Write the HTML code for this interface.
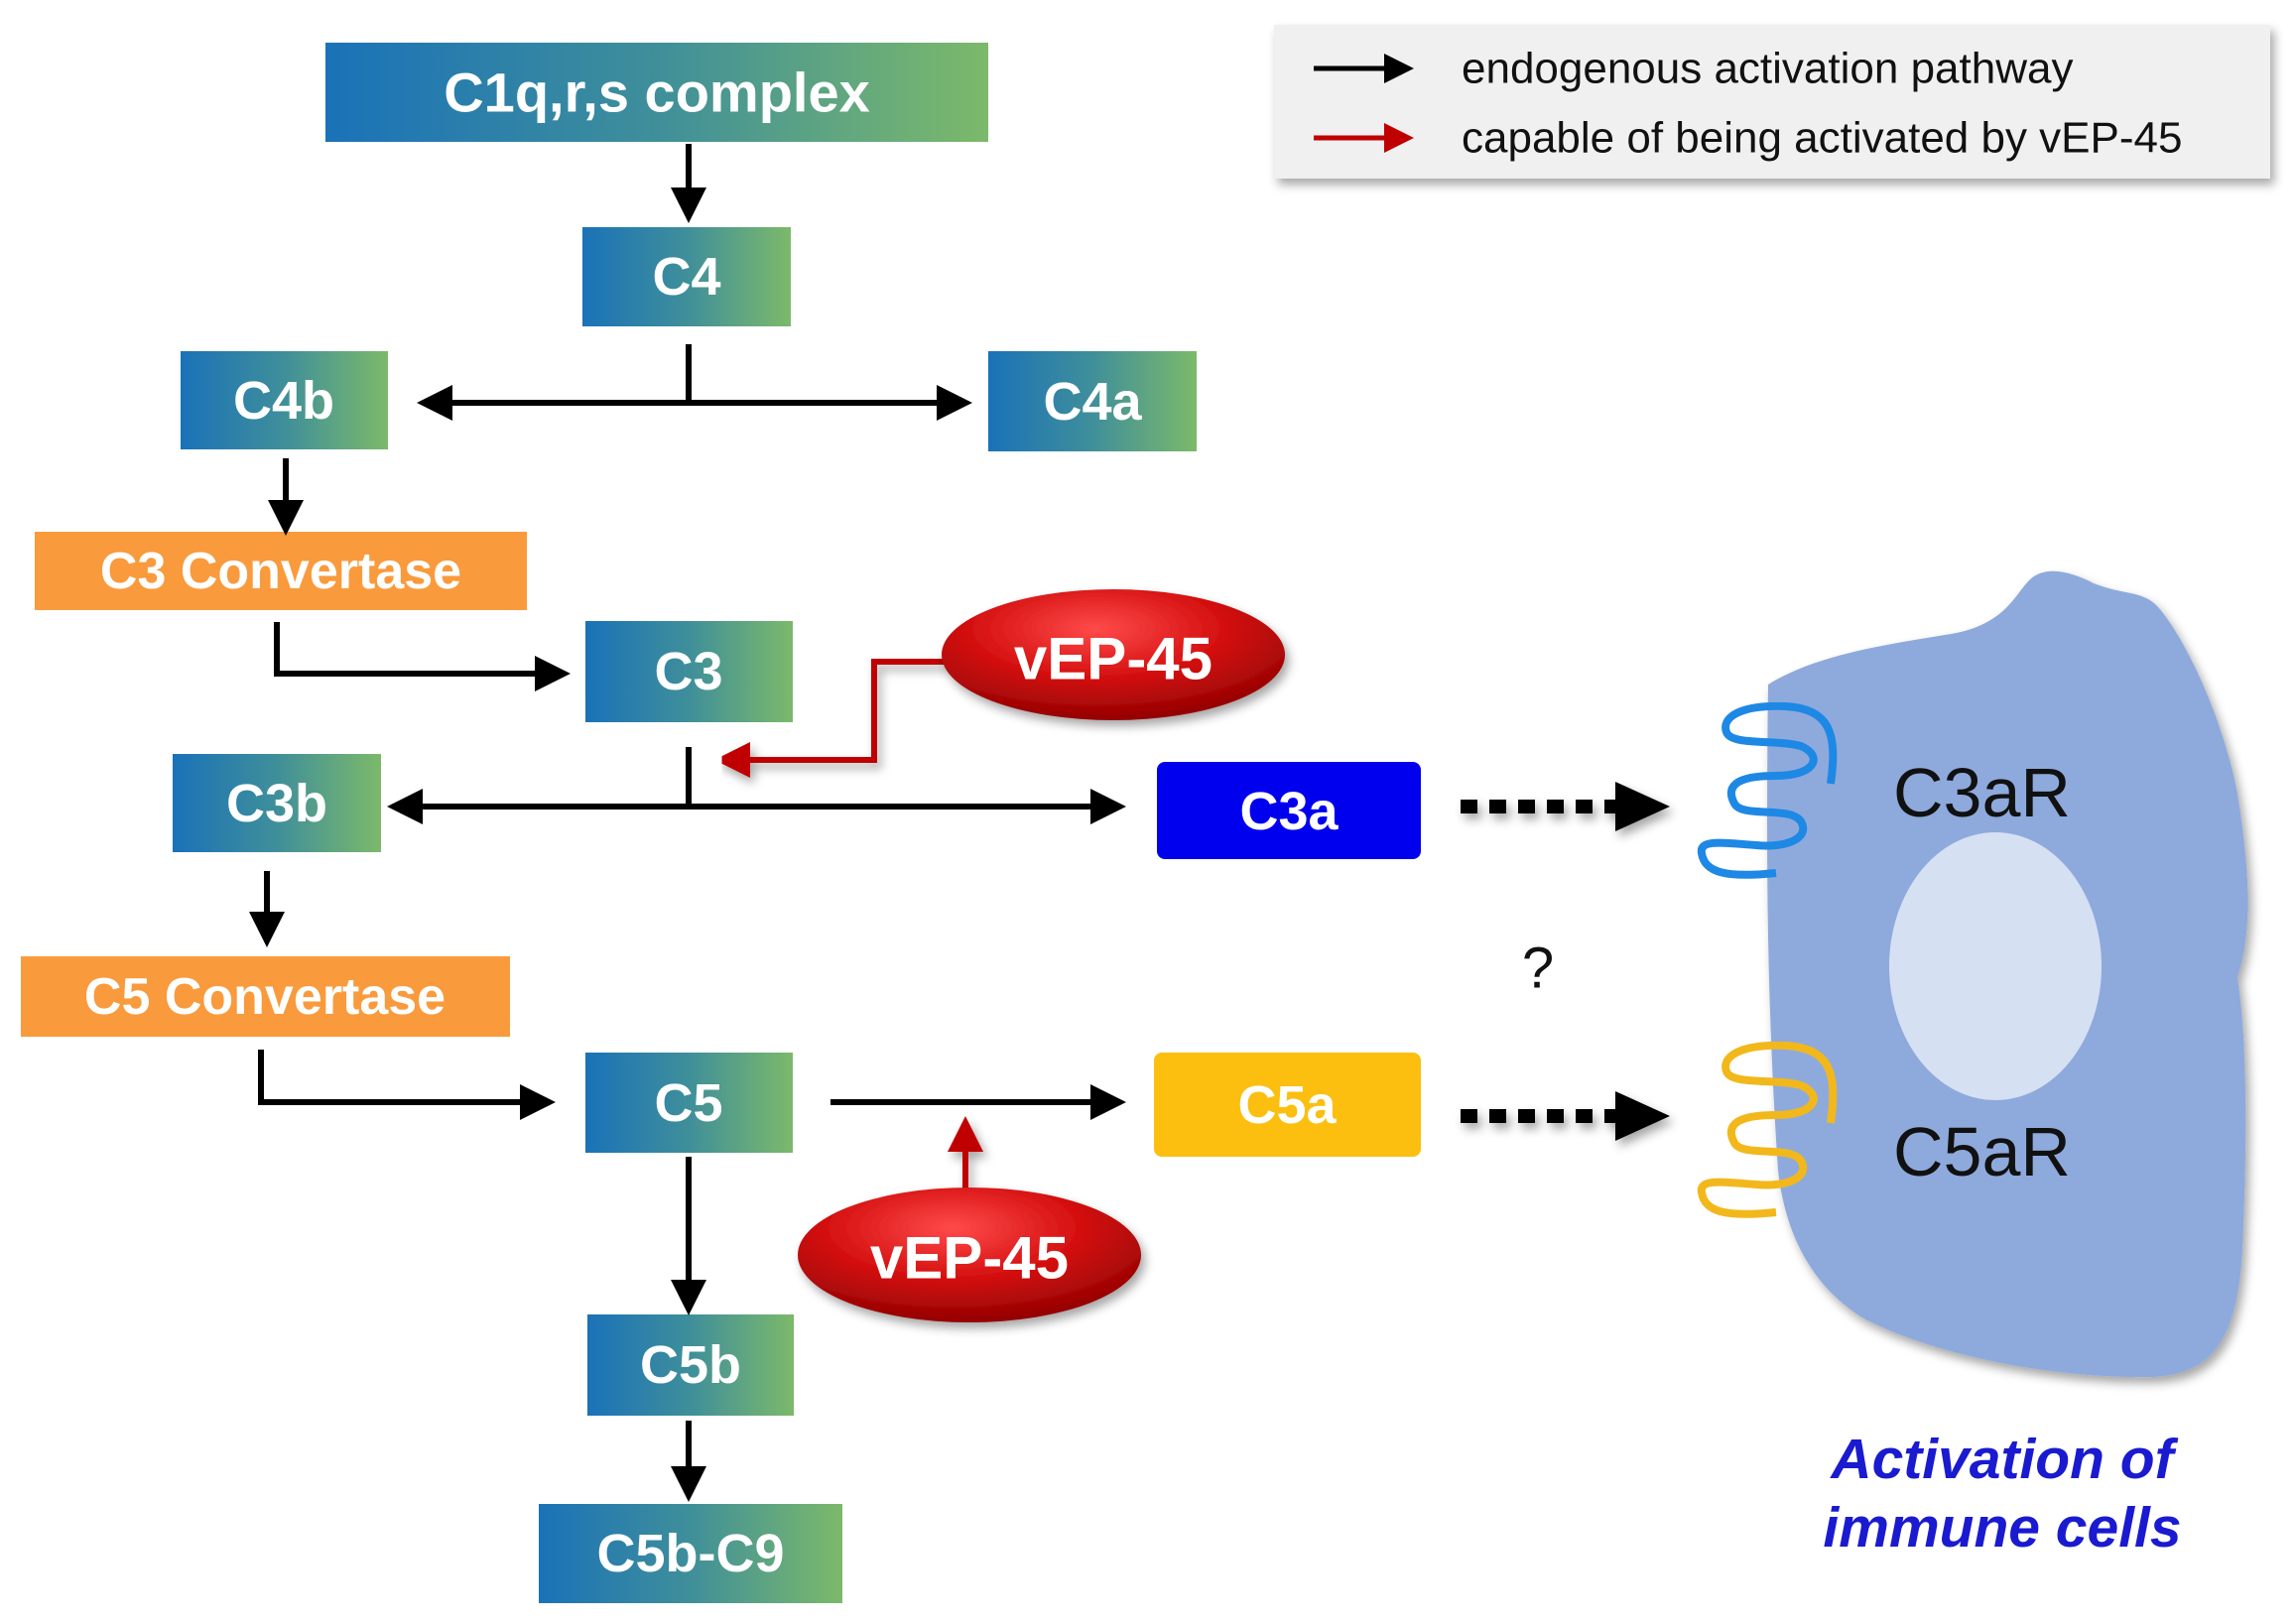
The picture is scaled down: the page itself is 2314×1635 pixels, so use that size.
<!DOCTYPE html>
<html><head><meta charset="utf-8"><style>
html,body{margin:0;padding:0;background:#fff;}
svg{display:block}
.bx{font-family:"Liberation Sans",sans-serif;font-weight:bold;fill:#fff;text-anchor:middle;dominant-baseline:central}
</style></head><body>
<svg width="2314" height="1635" viewBox="0 0 2314 1635" xmlns="http://www.w3.org/2000/svg">
<defs>
<linearGradient id="g" x1="0" x2="1" y1="0" y2="0">
<stop offset="0" stop-color="#1a72b8"/><stop offset="0.5" stop-color="#3f8f9a"/><stop offset="1" stop-color="#7cb96a"/></linearGradient>
<radialGradient id="r" cx="0.45" cy="0.3" r="0.75">
<stop offset="0" stop-color="#ff4a4a"/><stop offset="0.5" stop-color="#d40f0f"/><stop offset="1" stop-color="#8a0000"/></radialGradient>
<marker id="ak" markerWidth="6" markerHeight="6" refX="1" refY="3" orient="auto" markerUnits="strokeWidth" viewBox="0 0 6 6"><path d="M0,0 L6,3 L0,6 z" fill="#000"/></marker>
<marker id="ar" markerWidth="6" markerHeight="6" refX="1" refY="3" orient="auto" markerUnits="strokeWidth" viewBox="0 0 6 6"><path d="M0,0 L6,3 L0,6 z" fill="#c00000"/></marker>
<filter id="sh" x="-10%" y="-10%" width="130%" height="140%"><feDropShadow dx="4" dy="6" stdDeviation="5" flood-color="#000" flood-opacity="0.35"/></filter>
</defs>

<!-- legend -->
<rect x="1284" y="25" width="1004" height="155" fill="#f0f0f0" filter="url(#sh)"/>
<line x1="1324" y1="69" x2="1400" y2="69" stroke="#000" stroke-width="5" marker-end="url(#ak)"/>
<line x1="1324" y1="139" x2="1400" y2="139" stroke="#c00000" stroke-width="5" marker-end="url(#ar)"/>
<text x="1473" y="69" font-family="Liberation Sans,sans-serif" font-size="44" fill="#111" dominant-baseline="central">endogenous activation pathway</text>
<text x="1473" y="139" font-family="Liberation Sans,sans-serif" font-size="44" fill="#111" dominant-baseline="central">capable of being activated by vEP-45</text>

<!-- boxes -->
<rect x="328" y="43" width="668" height="100" fill="url(#g)"/><text class="bx" x="662" y="93" font-size="56">C1q,r,s complex</text>
<rect x="587" y="229" width="210" height="100" fill="url(#g)"/><text class="bx" x="692" y="279" font-size="54">C4</text>
<rect x="182" y="354" width="209" height="99" fill="url(#g)"/><text class="bx" x="286" y="404" font-size="54">C4b</text>
<rect x="996" y="354" width="210" height="101" fill="url(#g)"/><text class="bx" x="1101" y="405" font-size="54">C4a</text>
<rect x="35" y="536" width="496" height="79" fill="#f99a3c"/><text class="bx" x="283" y="576" font-size="52">C3 Convertase</text>
<rect x="590" y="626" width="209" height="102" fill="url(#g)"/><text class="bx" x="694" y="677" font-size="54">C3</text>
<rect x="174" y="760" width="210" height="99" fill="url(#g)"/><text class="bx" x="279" y="810" font-size="54">C3b</text>
<rect x="1166" y="768" width="266" height="98" rx="8" fill="#0000ee"/><text class="bx" x="1299" y="818" font-size="54">C3a</text>
<rect x="21" y="964" width="493" height="81" fill="#f99a3c"/><text class="bx" x="267" y="1005" font-size="52">C5 Convertase</text>
<rect x="590" y="1061" width="209" height="101" fill="url(#g)"/><text class="bx" x="694" y="1112" font-size="54">C5</text>
<rect x="1163" y="1061" width="269" height="105" rx="8" fill="#fcbf10"/><text class="bx" x="1297" y="1114" font-size="54">C5a</text>
<rect x="592" y="1325" width="208" height="102" fill="url(#g)"/><text class="bx" x="696" y="1376" font-size="54">C5b</text>
<rect x="543" y="1516" width="306" height="100" fill="url(#g)"/><text class="bx" x="696" y="1566" font-size="54">C5b-C9</text>

<!-- black arrows -->
<g stroke="#000" stroke-width="6" fill="none">
<line x1="694" y1="145" x2="694" y2="195" marker-end="url(#ak)"/>
<line x1="694" y1="347" x2="694" y2="406"/>
<line x1="694" y1="406" x2="450" y2="406" marker-end="url(#ak)"/>
<line x1="694" y1="406" x2="950" y2="406" marker-end="url(#ak)"/>
<line x1="288" y1="462" x2="288" y2="510" marker-end="url(#ak)"/>
<polyline points="279,627 279,679 545,679" marker-end="url(#ak)"/>
<line x1="694" y1="753" x2="694" y2="813"/>
<line x1="694" y1="813" x2="420" y2="813" marker-end="url(#ak)"/>
<line x1="694" y1="813" x2="1105" y2="813" marker-end="url(#ak)"/>
<line x1="269" y1="878" x2="269" y2="925" marker-end="url(#ak)"/>
<polyline points="263,1058 263,1111 530,1111" marker-end="url(#ak)"/>
<line x1="837" y1="1111" x2="1105" y2="1111" marker-end="url(#ak)"/>
<line x1="694" y1="1166" x2="694" y2="1296" marker-end="url(#ak)"/>
<line x1="694" y1="1432" x2="694" y2="1484" marker-end="url(#ak)"/>
</g>
<!-- dotted arrows -->
<g stroke="#000" stroke-width="14" stroke-dasharray="17,12" filter="url(#sh)">
<line x1="1472" y1="813" x2="1630" y2="813"/>
<line x1="1472" y1="1125" x2="1630" y2="1125"/>
</g>
<path d="M1628,788 L1683,813 L1628,838 z" fill="#000" filter="url(#sh)"/>
<path d="M1628,1100 L1683,1125 L1628,1150 z" fill="#000" filter="url(#sh)"/>

<!-- red arrows -->
<g stroke="#c00000" stroke-width="6" fill="none" filter="url(#sh)">
<polyline points="955,667 881,667 881,766 750,766" marker-end="url(#ar)"/>
<line x1="973" y1="1198" x2="973" y2="1155" marker-end="url(#ar)"/>
</g>
<ellipse cx="1122" cy="660" rx="173" ry="66" fill="url(#r)" filter="url(#sh)"/>
<text class="bx" x="1122" y="664" font-size="60">vEP-45</text>
<ellipse cx="977" cy="1265" rx="173" ry="68" fill="url(#r)" filter="url(#sh)"/>
<text class="bx" x="977" y="1268" font-size="60">vEP-45</text>

<text x="1550" y="976" font-family="Liberation Sans,sans-serif" font-size="58" fill="#111" text-anchor="middle" dominant-baseline="central">?</text>

<!-- cell -->
<path d="M1782,690 C1830,660 1900,650 1960,640 C2020,632 2030,600 2045,585 C2060,570 2085,575 2110,588 C2140,600 2160,595 2175,612 C2200,640 2240,720 2255,800 C2268,880 2270,940 2255,985 C2265,1050 2265,1150 2260,1260 C2255,1350 2230,1385 2170,1388 C2080,1390 1960,1370 1880,1330 C1830,1300 1800,1250 1792,1180 C1780,1000 1780,850 1782,690 z" fill="#8eaadc" filter="url(#sh)"/>
<ellipse cx="2011" cy="974" rx="107" ry="135" fill="#d6e0f3"/>
<text x="1908" y="799" font-family="Liberation Sans,sans-serif" font-size="70" fill="#111" dominant-baseline="central">C3aR</text>
<text x="1908" y="1161" font-family="Liberation Sans,sans-serif" font-size="70" fill="#111" dominant-baseline="central">C5aR</text>
<path d="M1845,790 C1852,740 1845,715 1800,712 C1750,710 1735,725 1740,738 C1745,752 1790,745 1815,752 C1838,762 1830,782 1790,782 C1745,782 1740,795 1748,810 C1756,825 1805,812 1815,828 C1825,845 1800,855 1770,852 C1740,850 1712,845 1715,860 C1718,880 1740,885 1790,880" fill="none" stroke="#1e88e5" stroke-width="8"/>
<path d="M1845,1132 C1852,1082 1845,1057 1800,1054 C1750,1052 1735,1067 1740,1080 C1745,1094 1790,1087 1815,1094 C1838,1104 1830,1124 1790,1124 C1745,1124 1740,1137 1748,1152 C1756,1167 1805,1154 1815,1170 C1825,1187 1800,1197 1770,1194 C1740,1192 1712,1187 1715,1202 C1718,1222 1740,1227 1790,1222" fill="none" stroke="#f2b81b" stroke-width="8"/>

<text x="2018" y="1471" font-family="Liberation Sans,sans-serif" font-size="57" font-weight="bold" font-style="italic" fill="#1a1ad0" text-anchor="middle" dominant-baseline="central">Activation of</text>
<text x="2018" y="1540" font-family="Liberation Sans,sans-serif" font-size="57" font-weight="bold" font-style="italic" fill="#1a1ad0" text-anchor="middle" dominant-baseline="central">immune cells</text>
</svg>
</body></html>
